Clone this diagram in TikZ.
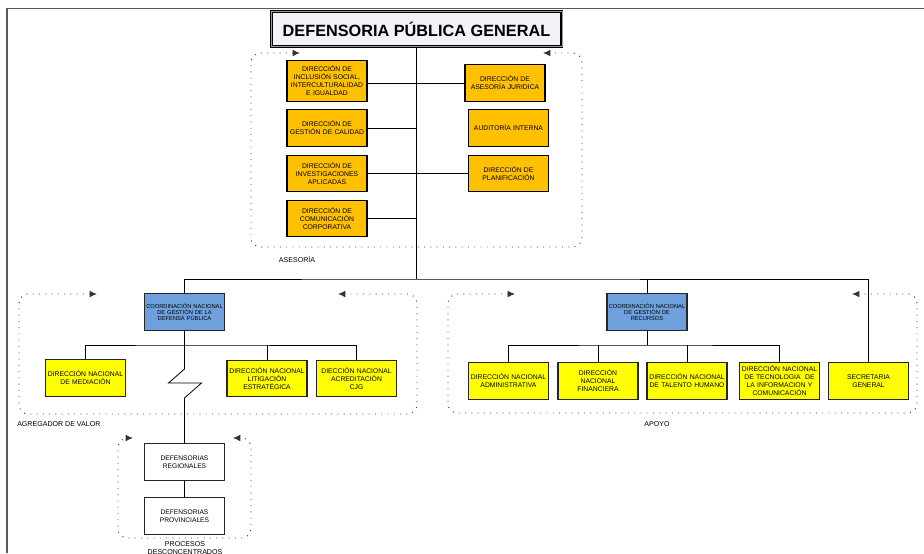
\documentclass[tikz,border=0pt]{standalone}
\usepackage{fontspec}
\setmainfont{Liberation Sans}
\usetikzlibrary{arrows.meta}
\usepackage{xcolor}
\definecolor{asorange}{RGB}{255,192,0}
\definecolor{coordblue}{RGB}{111,160,220}
\definecolor{diryellow}{RGB}{255,255,0}
\definecolor{titlefill}{RGB}{242,242,248}

\begin{document}
\begin{tikzpicture}[x=0.75pt,y=-0.75pt,
    unit/.style={draw=black!85, line width=0.8pt, align=center, inner sep=0pt,
        text width=60pt, minimum height=27.5pt, font=\fontsize{5.1}{6}\selectfont},
    asesor/.style={unit, fill=asorange, draw=black},
    direc/.style={unit, fill=diryellow},
    coordbox/.style={unit, fill=coordblue, font=\fontsize{4.3}{4.6}\selectfont},
    descbox/.style={unit, fill=white, font=\fontsize{5}{6.2}\selectfont},
    grouplbl/.style={font=\fontsize{5.3}{6}\selectfont, inner sep=0pt},
    area/.style={black!80, line width=0.7pt, dash pattern=on 0.7pt off 4pt,
        rounded corners=7pt, {Latex[length=5.5pt,width=5pt]}-{Latex[length=5.5pt,width=5pt]}}]

    \useasboundingbox (0,0) rectangle (924,553);
    % Page edge
    \draw[black!65, line width=1.2pt] (7,553) -- (7,8.5) -- (924,8.5);

    % Top of the chart
    \node[draw=black, line width=0.9pt, double=black!40, double distance=0.5pt,
        fill=titlefill, minimum width=218pt, minimum height=26pt,
        font=\bfseries\fontsize{12.2}{14}\selectfont] (dpg) at (416.5,29) {DEFENSORIA PÚBLICA GENERAL};

    % Asesoria, left column
    \node[asesor, minimum height=30.75pt] (incl) at (327,81) {DIRECCIÓN DE\\INCLUSIÓN SOCIAL,\\INTERCULTURALIDAD\\E IGUALDAD};
    \node[asesor] (cal) at (327,128) {DIRECCIÓN DE\\GESTIÓN DE CALIDAD};
    \node[asesor] (inv) at (327,173.5) {DIRECCIÓN DE\\INVESTIGACIONES\\APLICADAS};
    \node[asesor] (com) at (327,218.5) {DIRECCIÓN DE\\COMUNICACIÓN\\CORPORATIVA};
    % Asesoria, right column
    \node[asesor] (jur) at (505,83) {DIRECCIÓN DE\\ASESORÍA JURIDICA};
    \node[asesor] (aud) at (508.5,128) {AUDITORÍA INTERNA};
    \node[asesor] (plan) at (508.5,173.5) {DIRECCIÓN DE\\PLANIFICACIÓN};

    % Trunk and asesoria links
    \coordinate (bus) at (416.5,279);
    \draw[line width=0.8pt] (dpg.south) -- (bus);
    \draw[line width=0.6pt] (incl.east |- jur.west) -- (jur.west);
    \draw[line width=0.6pt] (cal.east) -- (cal.east -| dpg.south);
    \draw[line width=0.6pt] (inv.east) -- (plan.west);
    \draw[line width=0.6pt] (com.east) -- (com.east -| dpg.south);

    % The two coordinations and secretaria
    \node[coordbox] (cgdp) at (184.5,312) {COORDINACIÓN NACIONAL\\DE GESTIÓN DE LA\\DEFENSA PÚBLICA};
    \node[coordbox] (cgr) at (647,312) {COORDINACIÓN NACIONAL\\DE GESTIÓN DE\\RECURSOS};
    \node[direc] (sec) at (868.5,381) {SECRETARIA\\GENERAL};
    \draw[line width=0.6pt] (cgdp.north) |- (bus) -| (sec.north);
    \draw[line width=0.6pt] (cgr.north) -- (cgr.north |- bus);

    % Agregador de valor
    \node[direc] (med) at (85.5,378) {DIRECCIÓN NACIONAL\\DE MEDIACIÓN};
    \node[direc] (lit) at (267,378.5) {DIRECCIÓN NACIONAL\\LITIGACIÓN\\ESTRATÉGICA};
    \node[direc] (acre) at (356.5,378.5) {DIECCIÓN NACIONAL\\ACREDITACIÓN\\CJG};
    \coordinate (lbar) at (184.5,345);
    \draw[line width=0.6pt] (cgdp.south) -- (lbar);
    \draw[line width=0.6pt] (med.north) |- (lbar) -| (acre.north);
    \draw[line width=0.6pt] (lit.north) -- (lit.north |- lbar);

    % Procesos desconcentrados, reached through the break
    \node[descbox] (reg) at (184.5,462) {DEFENSORIAS\\REGIONALES};
    \node[descbox] (prov) at (184.5,516) {DEFENSORIAS\\PROVINCIALES};
    \draw[line width=0.6pt] (lbar) -- ++(0,24) -- ++(-16,14) -- ++(33,0) -- ++(-17,15) -- (reg.north);
    \draw[line width=0.6pt] (reg) -- (prov);

    % Apoyo
    \node[direc] (adm) at (508.5,381) {DIRECCIÓN NACIONAL\\ADMINISTRATIVA};
    \node[direc] (fin) at (598,381) {DIRECCIÓN\\NACIONAL\\FINANCIERA};
    \node[direc] (tal) at (687,381) {DIRECCIÓN NACIONAL\\DE TALENTO HUMANO};
    \node[direc] (tec) at (779.5,381) {DIRECCIÓN NACIONAL\\DE TECNOLOGIA \ DE\\LA INFORMACION Y\\COMUNICACIÓN};
    \coordinate (rbar) at (647,345);
    \draw[line width=0.6pt] (cgr.south) -- (rbar);
    \draw[line width=0.6pt] (adm.north) |- (rbar) -| (tec.north);
    \draw[line width=0.6pt] (fin.north) -- (fin.north |- rbar);
    \draw[line width=0.6pt] (tal.north) -- (tal.north |- rbar);

    % Dotted group outlines
    \draw[area] (300,53) -- (251,53) -- (251,247) -- (582,247) -- (582,53) -- (543,53);
    \draw[area] (97,294) -- (19,294) -- (19,414) -- (417,414) -- (417,294) -- (338,294);
    \draw[area] (515,294) -- (448,294) -- (448,413) -- (917,413) -- (917,294) -- (852,294);
    \draw[area] (133,438) -- (118,438) -- (118,538) -- (251,538) -- (251,438) -- (233,438);

    % Group names
    \node[grouplbl] (lasesoria) at (297,259) {ASESORÍA};
    \node[grouplbl, anchor=west] (lagregador) at (17,424) {AGREGADOR DE VALOR};
    \node[grouplbl] (lapoyo) at (657,424) {APOYO};
    \node[grouplbl, anchor=north, align=center] (lprocesos) at (185,541) {PROCESOS\\DESCONCENTRADOS};
\end{tikzpicture}
\end{document}
